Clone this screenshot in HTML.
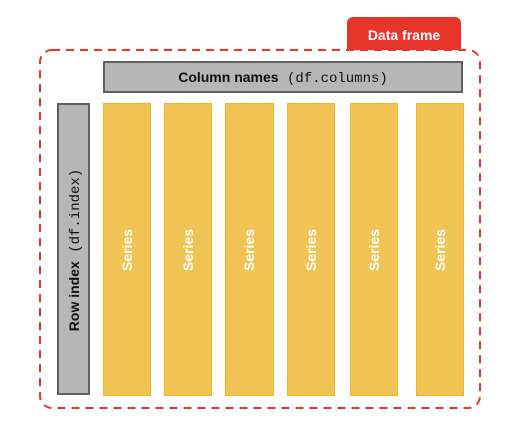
<!DOCTYPE html>
<html><head><meta charset="utf-8"><style>
body{margin:0;background:#fff;width:520px;height:432px;overflow:hidden}
</style></head><body>
<svg width="520" height="432" xmlns="http://www.w3.org/2000/svg" font-family="Liberation Sans, sans-serif">
<rect x="347" y="17" width="114" height="40" rx="6" fill="#e8352b"/>
<rect x="40" y="50" width="440" height="358" rx="12" fill="#fff" stroke="#e8352b" stroke-width="2" stroke-dasharray="8,6"/>
<text x="404" y="40" font-size="14" font-weight="bold" fill="#fff" text-anchor="middle">Data frame</text>
<rect x="104" y="62" width="358" height="30" fill="#b5b6b5" stroke="#606060" stroke-width="2"/>
<text x="283" y="82" font-size="14" text-anchor="middle" fill="#111"><tspan font-weight="bold">Column names</tspan><tspan font-family="Liberation Mono, monospace" font-size="14"> (df.columns)</tspan></text>
<rect x="58" y="104" width="31" height="290" fill="#b5b6b5" stroke="#606060" stroke-width="2"/>
<text transform="translate(79,250) rotate(-90)" font-size="14" text-anchor="middle" fill="#111"><tspan font-weight="bold">Row index</tspan><tspan font-family="Liberation Mono, monospace"> (df.index)</tspan></text>
<g fill="#f0c355" stroke="#f5b52a" stroke-width="1">
<rect x="103.5" y="103.5" width="47" height="292"/>
<rect x="164.5" y="103.5" width="47" height="292"/>
<rect x="225.5" y="103.5" width="48" height="292"/>
<rect x="287.5" y="103.5" width="47" height="292"/>
<rect x="350.5" y="103.5" width="47" height="292"/>
<rect x="416.5" y="103.5" width="47" height="292"/>
</g>
<g font-size="14" font-weight="bold" fill="#fff" text-anchor="middle">
<text transform="translate(132,250) rotate(-90)">Series</text>
<text transform="translate(193,250) rotate(-90)">Series</text>
<text transform="translate(254,250) rotate(-90)">Series</text>
<text transform="translate(316,250) rotate(-90)">Series</text>
<text transform="translate(379,250) rotate(-90)">Series</text>
<text transform="translate(445,250) rotate(-90)">Series</text>
</g>
</svg>
</body></html>
